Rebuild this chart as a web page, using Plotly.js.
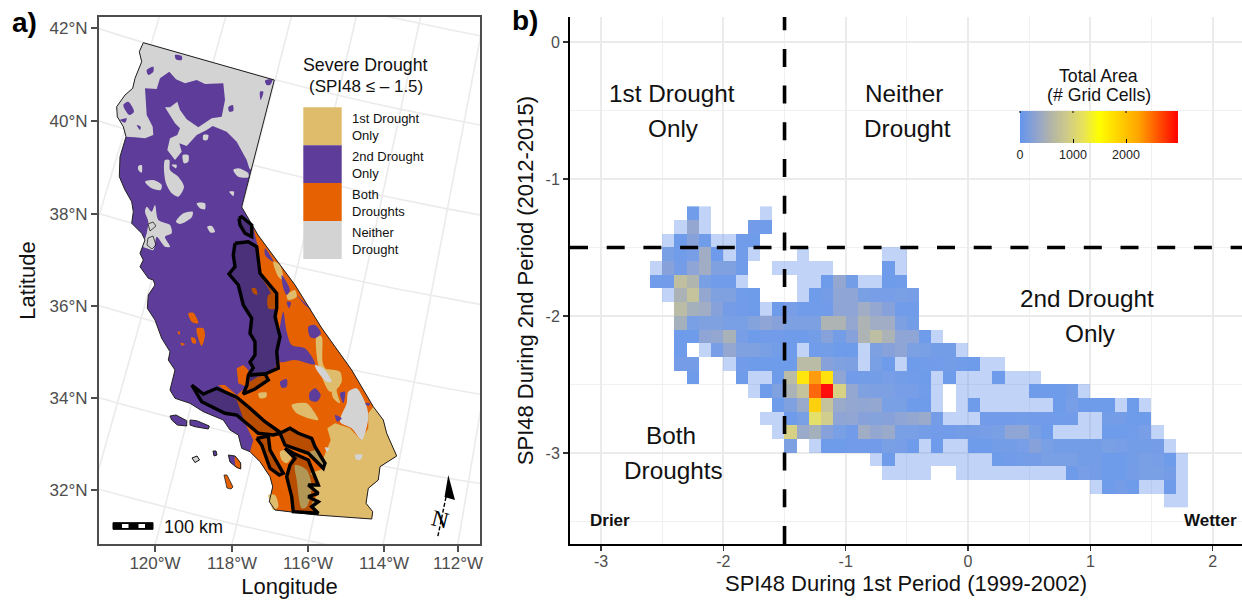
<!DOCTYPE html>
<html>
<head>
<meta charset="utf-8">
<script src="https://cdn.plot.ly/plotly-3.0.1.min.js"></script>
<style>html,body{margin:0;padding:0;background:#fff}#chart{width:1242px;height:601px}</style>
</head>
<body>
<div id="chart"></div>
<script>
// ---------- Panel b: SPI48 cell counts. Each row: left edge of first cell, then counts (L = low-count cell, _ = empty)
const L = -1, _ = null;
const rowTops = [-1.2,-1.3,-1.4,-1.5,-1.6,-1.7,-1.8,-1.9,-2.0,-2.1,-2.2,-2.3,-2.4,-2.5,-2.6,-2.7,-2.8,-2.9,-3.0,-3.1,-3.2,-3.3];
const row01 = [-2.3, 40,L,_,_,_,_,L];
const row02 = [-2.4, L,300,L,_,_,_,50,40];
const row03 = [-2.5, L,30,200,40,L,L,40,30];
const row04 = [-2.5, 100,40,80,400,20,L,40,L,_,_,_,L,_,_,_,_,_,_,L,L];
const row05 = [-2.6, L,200,70,250,400,150,150,40,_,_,L,L,L,L,L,_,_,_,_,30,L];
const row06 = [-2.6, 40,50,700,550,100,40,40,L,_,_,_,_,L,L,30,300,60,L,L,30,40];
const row07 = [-2.5, L,500,750,300,150,150,40,30,_,_,_,L,30,70,250,250,100,80,80,100,80];
const row08 = [-2.4, 650,450,400,200,70,50,30,L,30,80,40,40,50,250,250,400,300,200,40,40];
const row09 = [-2.4, 450,100,150,150,100,100,180,250,200,120,120,120,520,520,300,520,400,400,120,60];
const row10 = [-2.4, 30,30,250,300,480,80,30,50,50,30,30,60,200,60,200,520,680,500,250,250,30,L];
const row11 = [-2.4, 30,_,L,80,300,150,150,100,60,30,L,40,60,30,30,L,120,200,250,120,100,60,60,L];
const row12 = [-2.4, 70,70,_,_,L,50,30,30,30,30,650,650,200,150,120,L,100,30,L,30,40,50,60,40,30,L,L];
const row13 = [-2.3, 30,_,_,_,30,L,L,30,650,1700,2300,1750,250,50,60,60,80,60,40,30,L,30,L,L,L,30,L,L,L];
const row14 = [-1.8, L,30,150,500,750,2550,2980,950,300,150,120,120,80,80,40,L,_,L,L,L,L,L,L,30,30,30,60,L];
const row15 = [-1.6, 30,150,350,1900,750,350,300,280,300,100,100,30,30,L,_,L,30,L,L,L,L,L,L,30,80,30,30,30,L,30,L];
const row16 = [-1.7, L,L,30,100,1150,900,250,280,200,180,200,250,300,350,70,L,L,L,50,50,50,60,50,50,40,50,L,L,60,70,30,30];
const row17 = [-1.6, L,950,350,450,200,100,50,400,300,350,100,100,70,50,50,70,70,80,100,250,250,100,30,L,L,L,L,30,30,40,80,L];
const row18 = [-1.5, 120,_,L,30,30,50,50,50,100,80,30,L,30,L,L,30,30,60,60,80,200,100,60,60,60,60,100,80,60,60,70,L];
const row19 = [-0.8, L,30,L,L,L,L,L,L,L,L,30,50,60,70,100,100,100,60,60,30,30,60,100,80,30,L];
const row20 = [-0.7, L,L,L,L,_,_,L,L,L,L,L,L,L,L,L,30,80,70,30,30,70,100,100,70,L];
const row21 = [1.0, L,30,70,30,L,L,30,L];
const row22 = [1.6, L,L];
const spiRows = [row01,row02,row03,row04,row05,row06,row07,row08,row09,row10,row11,row12,row13,row14,row15,row16,row17,row18,row19,row20,row21,row22];
const colorTicks = [0,1000,2000];
const colorMax = 2981;
const xTickVals = [-3,-2,-1,0,1,2];
const xTickText = ['-3','-2','-1','0','1','2'];
const yTickVals = [-3,-2,-1,0];
const yTickText = ['-3','-2','-1','0'];

// ---------- Panel a: map polygons in projected map units (x, y, x, y, ...)
const stateOutline = [143.3,42.7,274.3,80,241.7,207,258,235,295,285,321.7,328,351.7,370,373.3,406.7,383.3,420,386.7,433.3,396.7,456,380,466.7,378.3,480,368.3,488.3,366,503.3,372.7,511.7,371.7,519,316.7,515,275,510,269.3,501.7,272.7,486.7,270,476.7,260,461.7,250,451.7,241.7,448.3,238.3,435,230,430,223.3,420,203.3,411.7,190,403.3,175,398.3,170,390,175,370,168.3,360,170,351.7,161.7,338.3,155,320,147.3,308.3,148.3,295,155,285,153.3,280,148.3,278.3,140,266.7,143.3,260,140,253.3,145,240,141.7,233.3,131.7,223.3,133.3,211.7,131.7,201.7,125,190,119.3,176.7,120,156.7,123.3,145,126,136.7,123.3,126.7,117.3,116.7,116.7,106.7,125,95,132.7,88.3,135,78.3,141.7,61.7,139.3,51.7];
const islands = [
 [170,416,176,415,186.7,420.7,186.7,426,177.3,425,171.7,420],
 [190,420,196.7,420.7,209.3,426,208.3,429,195,426.7,190,425],
 [213,451,216,451,217,455,214,456],
 [228.3,455,235,456,240.7,463,240.7,469,236,467,230,462]
];
const grayIslet = [[192,458,197,456,199.5,460,195,462.5]];
const tipIslet = [[224,475,227,475,233,487,231,489,227,488]];
const northGray = [126,136.7,123.3,126.7,117.3,116.7,116.7,106.7,125,95,132.7,88.3,135,78.3,141.7,61.7,139.3,51.7,143.3,42.7,274.3,80,251.3,170,249.3,168.3,246.7,160,236.7,141.7,226.7,131.7,212.7,126,206.7,130,196.7,135,186.7,146,179.3,143.3,181.7,151.7,175,160,167.3,150,170,138.3,177.3,135,180,128.3,175,123.3,165,107.3,170,107.3,177.3,101.7,180,110,186.7,119.3,198.3,127.3,211.7,118.3,221.7,116.7,225,100,223.3,83.3,205,84,196.7,80,185,83.3,176,79.3,169.3,71.7,160,78.3,156.7,89,145,88.3,146.7,115,152.7,126.7,153.3,135,145,138.3,135,137.3];
const purpleInGray = [
 [175,55,181.7,56,181.7,60,176,59.3],
 [146.7,70,153.3,66.7,153.3,71.7,148.3,75],
 [123.3,105,128.3,101.7,134,111.7,129.3,115],
 [120,120,126.7,118.3,125,122.7],
 [136.7,125,140.7,126.7,140,130],
 [228.3,107.3,232.7,105,233.3,110.7,229.3,111.7],
 [265,80.7,272.7,79.3,270,85,266.7,85],
 [260,91.7,263.3,91.7,260.7,100]
];
const grayInPurple = [
 [138.3,166,141.7,165,141.7,172.7,138.3,170],
 [145,181.7,153.3,180,161.7,185,160.7,190,151.7,188.3],
 [165,160,169.3,160,170,170,178.3,176.7,184,186.7,178.3,196.7,171.7,193.3,166,183.3,164,170],
 [171.7,165,176.7,165,176,168.3],
 [182.7,155,188.3,155,188.3,161.7,184,163.3],
 [203.3,135,208.3,135,207.3,140,203.3,140],
 [233.3,170,238.3,168.3,248.3,173.3,248.3,177.3,238.3,176.7],
 [229.3,191.7,234,191.7,233.3,196],
 [196.7,203.3,205,203.3,205,209.3,200,208.3],
 [176,221.7,183.3,213.3,192.7,211.7,191.7,217.3,180,224],
 [207.3,226.7,211.7,226,215,231.7,210.7,232.7],
 [145,211.7,146.7,206.7,151.7,211.7,155,205,158.3,220,170,225,171.7,233.3,165,236.7,170,246.7,165,246.7,156.7,236.7,153.3,250,146.7,248.3,143.3,246.7,146.7,233.3,148.3,221.7]
];
const orangeMain = [253.3,228.3,258,235,295,285,321.7,328,351.7,370,373.3,406.7,383.3,420,386.7,433.3,396.7,456,380,466.7,378.3,480,368.3,488.3,366,503.3,372.7,511.7,371.7,519,316.7,515,275,510,269.3,501.7,272.7,486.7,270,476.7,260,461.7,250,451.7,253.3,440,245,423.3,236.7,400,228.3,393.3,218.3,385,225,385,236.7,395,246.7,386.7,238.3,383.3,236.7,368.3,243.3,365,248.3,370,250,381.7,263.3,373.3,273.3,371.7,278.3,360,290,360,281.7,361.7,278.3,340,276.7,305,268.3,288.3,260,275,258.3,248.3];
const orangePatches = [
 [188.3,313.3,193.3,312.7,198.3,323.3,191.7,321.7],
 [196.7,328.3,203.3,328.3,205,335,201.7,346,197.3,335],
 [191,337.3,195,338.3,196,343.3,192.7,343.3],
 [177.3,331.7,180,331.7,179.3,335],
 [180.7,342.7,185,344,181.7,345.7],
 [251.7,288.3,255.7,288.3,257.3,295,253.3,293.3],
 [268.3,295,276.7,293.3,276.7,308.3,268.3,308.3],
 [235,456,240.7,463,240.7,469,236,467]
];
const purpleOnOrange = [
 [283.3,311.7,286.7,331.7,291.7,345,305,348.3,315,364.3,295,360,280,361.7,278.3,341.7],
 [265,248.3,270,255,273.3,261.7,270,260,265,255],
 [281.7,275,290,290,286.7,295,283.3,288.3],
 [286.7,301.7,291,302.3,289,308.3],
 [296.7,295,311.7,310,305,305],
 [308.3,326.7,315,325,321,333.3,315,338.3,310,336.7],
 [280,381.7,286.7,379,286.7,386.7,281.7,387.7],
 [309.3,393.3,315,388.3,320.7,395,316.7,401.7,310,400],
 [335,415,341.7,418.3,337.3,421.7],
 [340,393.3,345,391.7,343.3,403.3],
 [365,403.3,370,403.3,368.3,406],
 [255,370,265,370,260,376.7]
];
const tanMain = [373.3,406.7,383.3,420,386.7,433.3,396.7,456,380,466.7,378.3,480,368.3,488.3,366,503.3,372.7,511.7,371.7,519,316.7,515,311.7,503.3,318.3,493.3,308.3,485,320,483.3,310,473.3,325,468.3,305,453.3,315,450,323.3,458.3,330.7,440,327.3,428.3,335,423.3,350,428.3,360.7,440,368.3,428.3,368.3,413.3];
const tanPatches = [
 [291.7,405,306.7,403.3,314,411.7,318.3,420,296.7,413.3],
 [321.7,370,340,371.7,341.7,381.7,336.7,390,340,403.3,333.3,398.3,330,383.3],
 [316.7,335,321.7,336.7,323.3,365,340,385,330,391.7,318.3,365],
 [273.3,261.7,280,265,283.3,280,278.3,276.7],
 [286.7,295,295,290,296.7,296.7,288.3,300],
 [258.3,393.3,266.7,392.7,266,397.3,260,398.3],
 [280,451.7,286.7,450,291.7,456.7,286.7,463.3,281.7,460],
 [268.3,495,275,495,278.3,506.7,273.3,510,270,501.7],
 [295,465,306.7,470,311.7,486.7,306.7,506.7,301.7,508.3,296.7,480]
];
const grayMojave = [
 [348.3,391.7,356.7,388.3,366.7,406.7,368.3,418.3,361.7,440,351.7,428.3,340,421.7,346.7,403.3],
 [355,455,362.7,455,360,460,356,459.3],
 [325,447.3,329.3,448.3,326.7,451.7],
 [315,365,323.3,368.3,331.7,381.7,326.7,381.7,316.7,370]
];
const basinOutlines = [
 [235,243.3,248.3,241.7,256.7,246.7,259,261.7,260,273.3,268.3,283.3,276.7,293.3,276.7,308.3,275,316.7,280,336.7,276.7,351.7,278.3,368.3,265,374,248.3,375,253.3,368,250,362,255,355,255,341.7,250,333.3,251.7,318.3,243.3,305,238.3,285,229,274,235,266.7,233.3,255],
 [248.3,375,265,374,268.3,380,255,389,243.3,394,247,385],
 [239,218.3,241.7,216.7,251.7,225,251.7,236.7,245,233.3,240,225],
 [191.7,385,203.3,394,216.7,388.3,236.7,397.3,250,408.3,265,421.7,281,433,273.3,435,258.3,433.3,236.7,415,225,413.3,201.7,401.7],
 [280,433.3,290,428.3,298.3,433.3,311.7,438.3,315,446.7,325,463.3,323.3,468.3,308.3,453.3,285,445],
 [256.7,438.3,268.3,436,270,450,283.3,473.3,279.3,475,270,468.3,261.7,445],
 [285,448.3,293.3,453.3,308.3,460,318.3,485,308.3,485,318.3,493.3,308.3,496.7,318.3,501.7,311.7,506.7,318.3,513.3,293.3,511.7,291.7,496.7,286.7,476.7,290,465,295,458.3]
];
const bayOutlines = [[148,224,153,222,156,226,150,231],[148,238,153,236,156,245,152,249,147,245]];
const lonTicks = [155,232,308,384,458];
const lonLabels = ['120°W','118°W','116°W','114°W','112°W'];
const latTicks = [28,121,214,306,398,490];
const latLabels = ['42°N','40°N','38°N','36°N','34°N','32°N'];
const meridians = [-126,-124,-122,-120,-118,-116,-114,-112,-110,-108];
const parallels = [30,32,34,36,38,40,42,44];
const legendNames = ['1st Drought<br>Only','2nd Drought<br>Only','Both<br>Droughts','Neither<br>Drought'];

// ---------- Colours
const TAN='#DFBC6B', PURPLE='#5E3C99', ORANGE='#E66101', GRAY='#D3D3D3', BLUE='#6495ED';
const legendColors=[TAN,PURPLE,ORANGE,GRAY];
const heatScale=[[0,'#6495ED'],[0.1,'#8FA3CF'],[0.2,'#B3B5A6'],[0.3,'#CFCB88'],[0.4,'#E8E25A'],[0.5,'#FFFF00'],[0.75,'#FFA500'],[1,'#FF0000']];

// ---------- Helpers
function polyXY(list){const xs=[],ys=[];list.forEach(p=>{for(let i=0;i<p.length;i+=2){xs.push(p[i]);ys.push(p[i+1]);}xs.push(p[0]);ys.push(p[1]);xs.push(null);ys.push(null);});return {xs,ys};}
function fillTrace(list,color,smooth){const q=polyXY(list);return {type:'scatter',mode:'lines',x:q.xs,y:q.ys,xaxis:'x',yaxis:'y',fill:'toself',fillcolor:color,line:{width:0,color:color,shape:smooth?'spline':'linear',smoothing:0.8},hoverinfo:'skip',showlegend:false};}
function lineTrace(list,color,width,fill){const q=polyXY(list);const t={type:'scatter',mode:'lines',x:q.xs,y:q.ys,xaxis:'x',yaxis:'y',line:{width:width,color:color},hoverinfo:'skip',showlegend:false};if(fill){t.fill='toself';t.fillcolor=fill;}return t;}

// Map projection of the graticule (conic equal-area, fitted to the frame ticks)
const N=0.6028,C=1.3512,RHO=10569,S=0.3934,X0=1041.6,Y0=-2891;
function proj(lon,lat){const rho=RHO*Math.sqrt(C-2*N*Math.sin(lat*Math.PI/180));const th=N*(lon+96)*Math.PI/180;return [X0+S*rho*Math.sin(th),Y0+S*rho*Math.cos(th)];}
const gx=[],gy=[];
meridians.forEach(lon=>{for(let lat=28;lat<=46;lat+=1){const p=proj(lon,lat);gx.push(p[0]);gy.push(p[1]);}gx.push(null);gy.push(null);});
parallels.forEach(lat=>{for(let lon=-128;lon<=-106;lon+=1){const p=proj(lon,lat);gx.push(p[0]);gy.push(p[1]);}gx.push(null);gy.push(null);});

// Heat cells
const cols=44;
const xCenters=Array.from({length:cols},(v,i)=>-2.55+i*0.1);
const yCenters=rowTops.map(t=>t-0.05);
const zMain=[],zLow=[];
spiRows.forEach(r=>{
  const a=new Array(cols).fill(null),b=new Array(cols).fill(null);
  const s=Math.round((r[0]+2.6)*10);
  r.slice(1).forEach((v,i)=>{if(v===L)b[s+i]=1;else if(v!==null)a[s+i]=v;});
  zMain.push(a);zLow.push(b);
});

const traces=[
  {type:'scatter',mode:'lines',x:gx,y:gy,xaxis:'x',yaxis:'y',line:{color:'#EBEBEB',width:1.6},hoverinfo:'skip',showlegend:false},
  fillTrace([stateOutline],PURPLE),
  fillTrace(islands,PURPLE),
  fillTrace(grayIslet,GRAY),
  fillTrace(tipIslet,ORANGE),
  fillTrace([northGray],GRAY),
  fillTrace(purpleInGray,PURPLE,true),
  fillTrace(grayInPurple,GRAY,true),
  fillTrace([orangeMain],ORANGE),
  fillTrace(orangePatches,ORANGE,true),
  fillTrace([tanMain],TAN),
  fillTrace(tanPatches,TAN,true),
  fillTrace(grayMojave,GRAY,true),
  fillTrace(purpleOnOrange,PURPLE,true),
  lineTrace([stateOutline],'#222',1),
  lineTrace(islands,'#222',1),
  lineTrace(grayIslet,'#111',1),
  lineTrace(tipIslet,'#222',0.8),
  lineTrace(bayOutlines,'#222',0.8),
  lineTrace(basinOutlines,'#000',3.4,'rgba(0,0,0,0.2)'),
  {type:'heatmap',x:xCenters,y:yCenters,z:zLow,xaxis:'x2',yaxis:'y2',zmin:0,zmax:1,opacity:0.4,colorscale:[[0,BLUE],[1,BLUE]],showscale:false,hoverongaps:false,hoverinfo:'skip'},
  {type:'heatmap',x:xCenters,y:yCenters,z:zMain,xaxis:'x2',yaxis:'y2',zmin:0,zmax:colorMax,opacity:0.95,colorscale:heatScale,hoverongaps:false,
   colorbar:{orientation:'h',xref:'paper',yref:'paper',x:1020/1242,xanchor:'left',y:(601-166)/601,yanchor:'bottom',len:158,lenmode:'pixels',thickness:32,thicknessmode:'pixels',xpad:0,ypad:0,outlinewidth:0,
     tickmode:'array',tickvals:colorTicks,ticktext:colorTicks.map(String),ticks:'inside',ticklen:4,tickcolor:'#000',tickwidth:1,tickfont:{family:'Liberation Sans',size:12.5,color:'#222'}}}
];

const F='Liberation Sans';
const shapes=[];
function rect(x0,y0,x1,y1,fill,lw){shapes.push({type:'rect',xref:'x',yref:'y',x0,y0,x1,y1,fillcolor:fill,line:{width:lw||0,color:'#000'},layer:'above'});}
legendColors.forEach((c,i)=>rect(303.3,107.3+i*37.9,341.7,107.3+(i+1)*37.9,c));
// scale bar
rect(113,522.7,153,529.3,'#000',1);
rect(122,524,128.5,528,'#fff');
rect(138.5,524,145,528,'#fff');
// north arrow
shapes.push({type:'path',xref:'x',yref:'y',path:'M 448.3 475 L 444.5 497 L 455 500 Z',fillcolor:'#000',line:{width:0},layer:'above'});
shapes.push({type:'line',xref:'x',yref:'y',x0:446,y0:497,x1:437.5,y1:538,line:{color:'#000',width:1.4,dash:'4px,2px'},layer:'above'});
// drought thresholds
shapes.push({type:'line',xref:'x2',yref:'y2',x0:-1.5,x1:-1.5,y0:-3.664,y1:0.182,line:{color:'#000',width:3.6,dash:'18px,18.7px'},layer:'above'});
shapes.push({type:'line',xref:'x2',yref:'y2',x0:-3.254,x1:2.24,y0:-1.5,y1:-1.5,line:{color:'#000',width:3.6,dash:'18px,18.7px'},layer:'above'});

const ann=[];
function note(text,x,y,size,ref,extra){ann.push(Object.assign({text:text,x:x,y:y,xref:ref[0],yref:ref[1],showarrow:false,font:{family:F,size:size,color:'#111'},xanchor:'center',yanchor:'middle'},extra||{}));}
ann.push({text:'<b>a)</b>',xref:'paper',yref:'paper',x:24/1242,y:1-23/601,xanchor:'center',yanchor:'middle',showarrow:false,font:{family:F,size:28,color:'#000'}});
ann.push({text:'<b>b)</b>',xref:'paper',yref:'paper',x:525/1242,y:1-21/601,xanchor:'center',yanchor:'middle',showarrow:false,font:{family:F,size:28,color:'#000'}});
note('Severe Drought',365,65,17.8,['x','y']);
note('(SPI48 ≤ – 1.5)',366,87,17,['x','y']);
legendNames.forEach((t,i)=>note(t,349.5,127+i*37.9,13,['x','y'],{xanchor:'left',align:'left'}));
note('100 km',193,527,18,['x','y']);
note('N',440.5,519,23,['x','y'],{textangle:14,font:{family:'Liberation Serif',size:23,color:'#000'}});
const bx=p=>(p-968)/122.3, by=p=>(42-p)/137;
const ab=['x2','y2'];
note('1st Drought',bx(672),by(94),24.3,ab);
note('Only',bx(674),by(129),24.3,ab);
note('Neither',bx(904),by(94),24.3,ab);
note('Drought',bx(907),by(129),24.3,ab);
note('2nd Drought',bx(1087),by(299),24.3,ab);
note('Only',bx(1090),by(334),24.3,ab);
note('Both',bx(671),by(435),24.3,ab);
note('Droughts',bx(674),by(470),24.3,ab);
note('<b>Drier</b>',bx(610),by(520),17,ab);
note('<b>Wetter</b>',bx(1210),by(520),17,ab);
note('Total Area',1098.5,76,17.7,['paper px','paper px']);
ann[ann.length-1].xref='paper';ann[ann.length-1].yref='paper';ann[ann.length-1].x=1098.5/1242;ann[ann.length-1].y=1-76/601;
note('(# Grid Cells)',0,0,17.7,['paper','paper']);
ann[ann.length-1].x=1098.5/1242;ann[ann.length-1].y=1-95/601;
// short marks on the upper edge of the colour bar, at the colour ticks
colorTicks.forEach(v=>{
  ann.push({text:' ',xref:'paper',yref:'paper',x:(1020+158*v/colorMax)/1242,y:1-111/601,ax:0,ay:4,showarrow:true,arrowhead:0,arrowwidth:1,arrowcolor:'#000',standoff:0,startstandoff:0,font:{size:1}});
});

const layout={
  width:1242,height:601,margin:{l:0,r:0,t:0,b:0},paper_bgcolor:'#fff',plot_bgcolor:'#fff',showlegend:false,
  font:{family:F},
  xaxis:{domain:[99/1242,480/1242],range:[99,480],anchor:'y',tickmode:'array',tickvals:lonTicks,ticktext:lonLabels,ticks:'outside',ticklen:6,tickwidth:2,tickcolor:'#4d4d4d',ticklabelstandoff:-3,showgrid:false,zeroline:false,showline:true,mirror:true,linecolor:'#4d4d4d',linewidth:2,tickfont:{family:F,size:17,color:'#4d4d4d'},title:{text:'Longitude',standoff:6,font:{family:F,size:22,color:'#111'}}},
  yaxis:{domain:[57/601,584/601],range:[544,17],anchor:'x',tickmode:'array',tickvals:latTicks,ticktext:latLabels,ticks:'outside',ticklen:6,tickwidth:2,tickcolor:'#4d4d4d',showgrid:false,zeroline:false,showline:true,mirror:true,linecolor:'#4d4d4d',linewidth:2,tickfont:{family:F,size:17,color:'#4d4d4d'},title:{text:'Latitude',standoff:8,font:{family:F,size:22,color:'#111'}}},
  xaxis2:{domain:[570/1242,1],range:[-3.254,2.24],anchor:'y2',tickmode:'array',tickvals:xTickVals,ticktext:xTickText,ticks:'outside',ticklen:5,tickwidth:1.5,tickcolor:'#333',ticklabelstandoff:-3,gridcolor:'#EBEBEB',gridwidth:2,minor:{dtick:0.5,tick0:0,showgrid:true,gridcolor:'#F0F0F0',gridwidth:1,ticks:''},zeroline:false,showline:true,linecolor:'#000',linewidth:2,tickfont:{family:F,size:16,color:'#4d4d4d'},title:{text:'SPI48 During 1st Period (1999-2002)',standoff:6,font:{family:F,size:22,color:'#111'}}},
  yaxis2:{domain:[57/601,584/601],range:[-3.664,0.182],anchor:'x2',tickmode:'array',tickvals:yTickVals,ticktext:yTickText,ticks:'outside',ticklen:5,tickwidth:1.5,tickcolor:'#333',gridcolor:'#EBEBEB',gridwidth:2,minor:{dtick:0.5,tick0:0,showgrid:true,gridcolor:'#F0F0F0',gridwidth:1,ticks:''},zeroline:false,showline:true,linecolor:'#000',linewidth:2,tickfont:{family:F,size:16,color:'#4d4d4d'},title:{text:'SPI48 During 2nd Period (2012-2015)',standoff:6,font:{family:F,size:22,color:'#111'}}},
  shapes:shapes,annotations:ann
};
Plotly.newPlot('chart',traces,layout,{displayModeBar:false,staticPlot:true});
</script>
</body>
</html>
